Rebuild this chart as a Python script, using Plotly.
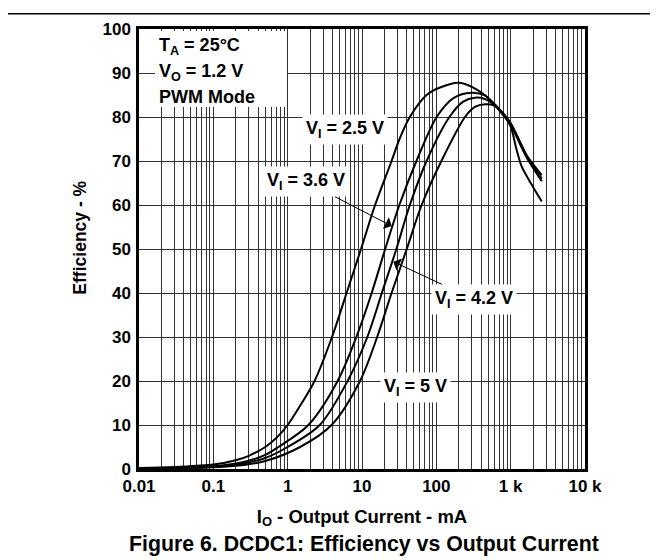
import plotly.graph_objects as go

# ---------------- data ----------------
i_25 = [0.01, 0.03, 0.1, 0.2, 0.3, 0.5, 0.72, 1.0, 1.55, 2.3, 3.95, 6.2, 9.7, 15, 25, 32, 44, 74,
        112, 198, 314, 525, 795, 1000, 1200, 1410, 2000, 2620]
eff_25 = [0.2, 0.45, 1.0, 2.0, 3.0, 5.0, 7.2, 10, 15, 20, 30, 40, 50, 60, 70, 75, 80, 85,
          86.7, 87.8, 86.7, 84.0, 80.6, 77.8, 72.6, 68.7, 64.1, 60.8]

i_36 = [0.01, 0.03, 0.1, 0.3, 0.5, 0.75, 1.9, 4.7, 8.4, 13.5, 20.5, 31.8, 54, 101, 170, 300,
        450, 600, 795, 1000, 1340, 1640, 2620]
eff_36 = [0.1, 0.25, 0.6, 1.9, 3.2, 5.0, 10, 20, 30, 40, 50, 60, 70, 80, 84.3, 85.5,
          84.9, 82.9, 80.8, 78.6, 74.3, 71.3, 66.8]

i_42 = [0.01, 0.03, 0.1, 0.3, 0.5, 1.0, 2.7, 6.4, 11.8, 18.5, 29, 44, 74, 150, 230, 330,
        450, 600, 795, 1000, 1340, 1640, 2620]
eff_42 = [0.1, 0.2, 0.5, 1.5, 2.5, 5.0, 10, 20, 30, 40, 50, 60, 70, 80, 83.5, 84.4,
          84.1, 82.8, 80.7, 78.5, 74.2, 71.1, 66.0]

i_50 = [0.01, 0.03, 0.1, 0.3, 0.5, 1.47, 3.9, 9.4, 16, 25, 40, 63.5, 117, 243, 330, 450,
        600, 795, 1000, 1340, 1640, 2620]
eff_50 = [0.1, 0.18, 0.4, 1.1, 1.8, 5.0, 10, 20, 30, 40, 50, 60, 70, 80, 82.3, 82.9,
          82.6, 80.4, 78.2, 73.8, 70.8, 65.4]

series_names = ["V<sub>I</sub> = 2.5 V", "V<sub>I</sub> = 3.6 V", "V<sub>I</sub> = 4.2 V", "V<sub>I</sub> = 5 V"]

x_tickvals = [0.01, 0.1, 1, 10, 100, 1000, 10000]
x_ticktext = ["0.01", "0.1", "1", "10", "100", "1 k", "10 k"]
x_minor = [m * d for d in [0.01, 0.1, 1, 10, 100, 1000] for m in range(2, 10)]
y_tickvals = list(range(0, 101, 10))

# ---------------- figure ----------------
FONT = "Liberation Sans, Arial, sans-serif"
fig = go.Figure()
for xs, ys, nm in [(i_25, eff_25, series_names[0]), (i_36, eff_36, series_names[1]),
                   (i_42, eff_42, series_names[2]), (i_50, eff_50, series_names[3])]:
    fig.add_trace(go.Scatter(x=xs, y=ys, mode="lines", name=nm,
                             line=dict(color="black", width=2, shape="spline", smoothing=0.9),
                             showlegend=False, hoverinfo="skip"))

GRID = "#333333"
fig.update_xaxes(type="log", range=[-2, 4], tickvals=x_tickvals, ticktext=x_ticktext,
                 showgrid=True, gridcolor=GRID, gridwidth=1,
                 minor=dict(tickvals=x_minor, showgrid=True, gridcolor=GRID, gridwidth=1, ticks=""),
                 showline=True, mirror=True, linecolor="black", linewidth=2.5,
                 ticks="", ticklabelstandoff=0, zeroline=False,
                 tickfont=dict(family=FONT, size=17, color="black", weight="bold"),
                 title=dict(text="I<sub>O</sub> - Output Current - mA", standoff=15,
                            font=dict(family=FONT, size=18.5, color="black", weight="bold")))
fig.update_yaxes(range=[0, 100], tickvals=y_tickvals,
                 showgrid=True, gridcolor=GRID, gridwidth=1,
                 showline=True, mirror=True, linecolor="black", linewidth=2.5,
                 ticks="", ticklabelstandoff=2, zeroline=False,
                 tickfont=dict(family=FONT, size=17, color="black", weight="bold"))

# page has an 8px body margin: figure is drawn from page (8, 8)
def dom(px, py):
    return (px - 139) / 446.0, (469 - py) / 445.0

shapes = []
# white box behind the conditions text
x0, y0 = dom(155, 103)
x1, y1 = dom(287, 26)
shapes.append(dict(type="rect", xref="x domain", yref="y domain", x0=x0, y0=y0, x1=x1, y1=y1,
                   fillcolor="white", line=dict(width=0), layer="above"))
# top rule across the page
shapes.append(dict(type="line", xref="paper", yref="paper",
                   x0=-131 / 446.0, x1=(650 - 131) / 446.0,
                   y0=(469 - 8.5) / 445.0, y1=(469 - 8.5) / 445.0,
                   line=dict(color="black", width=1.5)))
fig.update_layout(shapes=shapes)

afont = dict(family=FONT, size=18, color="black", weight="bold")
ann = []
for txt, py in [("T<sub>A</sub> = 25°C", 42), ("V<sub>O</sub> = 1.2 V", 68), ("PWM Mode", 93)]:
    ax_, ay_ = dom(157, py)
    ann.append(dict(text=txt, xref="x domain", yref="y domain", x=ax_, y=ay_,
                    xanchor="left", yanchor="middle", showarrow=False, font=afont))

lx, ly = dom(345, 110)
ann.append(dict(text=series_names[0], xref="x domain", yref="y domain", x=lx, y=ly,
                showarrow=False, font=afont, bgcolor="white", borderpad=3))
tx, ty = dom(391.7, 223.3)
ann.append(dict(text=series_names[1], xref="x domain", yref="y domain", x=tx, y=ty,
                ax=306 - 391.7, ay=179 - 223.3, showarrow=True, arrowhead=1, arrowsize=2.2,
                arrowwidth=1, arrowcolor="black", font=afont, bgcolor="white", borderpad=3))
tx, ty = dom(393.3, 259.3)
ann.append(dict(text=series_names[2], xref="x domain", yref="y domain", x=tx, y=ty,
                ax=474 - 393.3, ay=297 - 259.3, showarrow=True, arrowhead=1, arrowsize=2.2,
                arrowwidth=1, arrowcolor="black", font=afont, bgcolor="white", borderpad=3))
lx, ly = dom(415.7, 402)
ann.append(dict(text=series_names[3], xref="x domain", yref="y domain", x=lx, y=ly,
                showarrow=False, font=afont, bgcolor="white", borderpad=3))

# y-axis title
yx, yy = dom(80, 235)
ann.append(dict(text="Efficiency - %", xref="paper", yref="paper", x=yx, y=yy, textangle=-90,
                xanchor="center", yanchor="middle", showarrow=False,
                font=dict(family=FONT, size=17.5, color="black", weight="bold")))
# caption
cx, cy = dom(363.5, 545)
ann.append(dict(text="Figure 6. DCDC1: Efficiency vs Output Current", xref="paper", yref="paper",
                x=cx, y=cy, xanchor="center", yanchor="middle", showarrow=False,
                font=dict(family=FONT, size=21.3, color="black", weight="bold")))
fig.update_layout(annotations=ann)

fig.update_layout(width=650, height=552, margin=dict(l=131, r=73, t=16, b=91),
                  paper_bgcolor="white", plot_bgcolor="white")
fig.write_html("out.html")
